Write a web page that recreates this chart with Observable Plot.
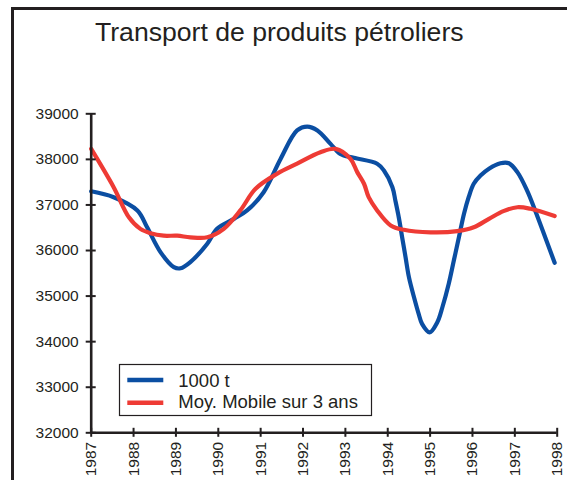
<!DOCTYPE html>
<html>
<head>
<meta charset="utf-8">
<script src="https://cdn.jsdelivr.net/npm/d3@7"></script>
<script src="https://cdn.jsdelivr.net/npm/@observablehq/plot@0.6"></script>
<style>
  html, body { margin: 0; padding: 0; background: #fff; }
  #wrap { position: relative; width: 567px; height: 480px; overflow: hidden; background: #fff; }
  #wrap svg { position: absolute; left: 0; top: 0; }
  #frame { position: absolute; left: 11px; top: 7px; width: 600px; height: 520px;
           border-top: 3px solid #231f20; border-left: 3px solid #231f20; pointer-events: none; }
</style>
</head>
<body>
<div id="wrap"><div id="frame"></div></div>
<script>
const title = "Transport de produits pétroliers";
const seriesNames = ["1000 t", "Moy. Mobile sur 3 ans"];
const seriesColors = ["#0b4ea2", "#ee3b35"];
const yearTicks = [1987, 1988, 1989, 1990, 1991, 1992, 1993, 1994, 1995, 1996, 1997, 1998];
const valueTicks = [32000, 33000, 34000, 35000, 36000, 37000, 38000, 39000];

// Series 1: 1000 t
const tonYears = [1987.0, 1987.53, 1988.09, 1988.32, 1988.64, 1988.95, 1989.11, 1989.34, 1989.74, 1989.97,
  1990.37, 1990.68, 1991.07, 1991.47, 1991.86, 1992.10, 1992.34, 1992.65, 1992.88, 1993.20,
  1993.75, 1993.91, 1994.11, 1994.18, 1994.26, 1994.34, 1994.42, 1994.50, 1994.62, 1994.73,
  1994.81, 1994.99, 1995.17, 1995.29, 1995.44, 1995.56, 1995.68, 1995.80, 1995.91, 1996.03,
  1996.19, 1996.39, 1996.66, 1996.86, 1997.06, 1997.29, 1997.45, 1997.94];
const tonValues = [37300, 37170, 36880, 36510, 35960, 35635, 35610, 35745, 36150, 36475,
  36695, 36880, 37280, 38010, 38635, 38720, 38635, 38340, 38120, 38035,
  37905, 37755, 37390, 37095, 36730, 36290, 35855, 35415, 34975, 34610,
  34390, 34205, 34425, 34755, 35270, 35780, 36290, 36805, 37170, 37465,
  37645, 37795, 37915, 37915, 37720, 37315, 36950, 35730];

// Series 2: Moy. Mobile sur 3 ans
const avgYears = [1987.0, 1987.53, 1987.89, 1988.16, 1988.40, 1988.71, 1989.03, 1989.34, 1989.74, 1990.13,
  1990.52, 1990.88, 1991.39, 1991.86, 1992.41, 1992.77, 1993.12, 1993.28, 1993.44, 1993.55,
  1993.75, 1994.07, 1994.38, 1995.01, 1995.64, 1996.03, 1996.39, 1996.73, 1997.06, 1997.37, 1997.94];
const avgValues = [38230, 37390, 36730, 36475, 36380, 36325, 36325, 36290, 36290, 36475,
  36880, 37355, 37685, 37905, 38155, 38230, 38010, 37720, 37465, 37170,
  36880, 36550, 36455, 36400, 36425, 36510, 36695, 36865, 36950, 36915, 36755];

const tonData = tonYears.map((y, i) => ({year: y, value: tonValues[i]}));
const avgData = avgYears.map((y, i) => ({year: y, value: avgValues[i]}));

const ink = "#231f20";
const font = "'Liberation Sans', Arial, sans-serif";

const chart = Plot.plot({
  width: 567,
  height: 480,
  marginLeft: 90.7,
  marginRight: 10.3,
  marginTop: 113.3,
  marginBottom: 47.7,
  style: {fontFamily: font, fontSize: "15.5px", color: ink, background: "transparent"},
  x: {domain: [1987, 1998], ticks: yearTicks, tickFormat: d => String(d), axis: null},
  y: {domain: [32000, 39000], ticks: valueTicks, tickFormat: d => String(d), axis: null},
  marks: [
    Plot.line(tonData, {x: "year", y: "value", stroke: seriesColors[0], strokeWidth: 4.2, curve: "catmull-rom"}),
    Plot.line(avgData, {x: "year", y: "value", stroke: seriesColors[1], strokeWidth: 4.2, curve: "catmull-rom"}),
    Plot.ruleX([1987], {stroke: ink, strokeWidth: 2.6}),
    Plot.ruleY([32000], {stroke: ink, strokeWidth: 2.6}),
    Plot.axisY(valueTicks, {tickSize: 10, dx: 5, fill: "none", stroke: ink, strokeWidth: 2, label: null}),
    Plot.axisY(valueTicks, {tickSize: 0, tickPadding: 12.5, stroke: "none", fill: ink, fontSize: 15.5, tickFormat: d => String(d), label: null}),
    Plot.axisX(yearTicks, {tickSize: 9, dy: -4.5, fill: "none", stroke: ink, strokeWidth: 2, label: null}),
    Plot.axisX(yearTicks, {tickSize: 0, tickPadding: 9, tickRotate: -90, stroke: "none", fill: ink, fontSize: 15.5, tickFormat: d => String(d), label: null})
  ]
});

document.getElementById("wrap").insertBefore(chart, document.getElementById("frame"));

const svg = d3.select(chart);
svg.append("text")
  .attr("x", 95).attr("y", 41)
  .attr("text-anchor", "start")
  .attr("font-family", font).attr("font-size", 26.6).attr("fill", ink)
  .text(title);

const lg = svg.append("g");
lg.append("rect").attr("x", 119.5).attr("y", 364.5).attr("width", 252).attr("height", 51)
  .attr("fill", "#fff").attr("stroke", ink).attr("stroke-width", 1.2);
seriesNames.forEach((name, i) => {
  const yLine = 380 + i * 22.7;
  lg.append("line").attr("x1", 127.3).attr("x2", 163.3).attr("y1", yLine).attr("y2", yLine)
    .attr("stroke", seriesColors[i]).attr("stroke-width", 4.5);
  lg.append("text").attr("x", 178.3).attr("y", 386.7 + i * 21.6)
    .attr("text-anchor", "start")
    .attr("font-family", font).attr("font-size", 18.5).attr("fill", ink).text(name);
});
</script>
</body>
</html>
